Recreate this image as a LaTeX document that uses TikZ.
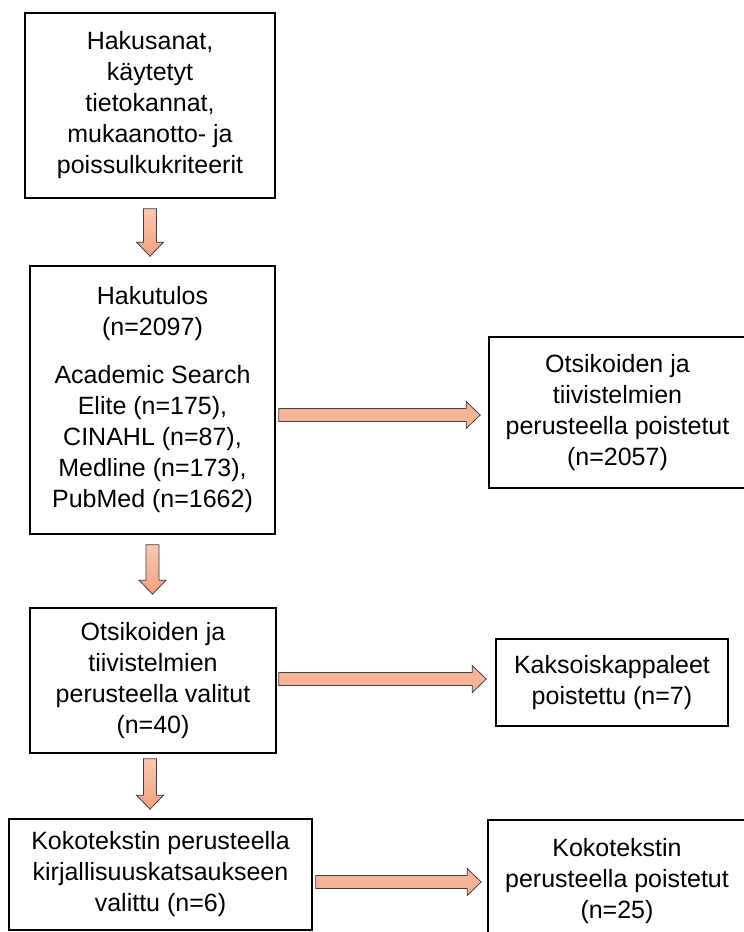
\documentclass[tikz,border=0pt]{standalone}
\usepackage{fontspec}
\setmainfont{Liberation Sans}
\usetikzlibrary{calc}
\definecolor{arrowfill}{RGB}{245,180,152}
\definecolor{arrowtop}{RGB}{250,200,178}
\definecolor{arrowbot}{RGB}{240,160,128}
\tikzset{
  flowbox/.style={draw, line width=1.6pt, align=center, inner sep=0pt,
    font=\fontsize{25}{31}\selectfont},
  fat/.style={draw=black!75, line width=0.8pt, fill=arrowfill,
    to path={let \p1=(\tikztostart), \p2=(\tikztotarget),
      \n1={atan2(\y2-\y1,\x2-\x1)}, \n2={veclen(\x2-\x1,\y2-\y1)} in
      ($(\p1)+(\n1+90:6.5pt)$) -- ($(\p1)+(\n1:\n2-14pt)+(\n1+90:6.5pt)$)
      -- ($(\p1)+(\n1:\n2-14pt)+(\n1+90:13.5pt)$) -- (\p2)
      -- ($(\p1)+(\n1:\n2-14pt)+(\n1-90:13.5pt)$)
      -- ($(\p1)+(\n1:\n2-14pt)+(\n1-90:6.5pt)$)
      -- ($(\p1)+(\n1-90:6.5pt)$) -- cycle}},
  fatdown/.style={fat, top color=arrowtop, bottom color=arrowbot}
}
\begin{document}
\begin{tikzpicture}[x=1pt,y=-1pt]
\clip (0,0) rectangle (744,932);
\fill[white] (0,0) rectangle (744,932);
\node[flowbox, minimum width=250pt, minimum height=185pt] (hakusanat) at (150,105.5) {Hakusanat,\\käytetyt\\tietokannat,\\mukaanotto- ja\\poissulkukriteerit};
\node[flowbox, minimum width=245pt, minimum height=268pt] (hakutulos) at (152.5,400) {Hakutulos\\(n=2097)\\[17pt]Academic Search\\Elite (n=175),\\CINAHL (n=87),\\Medline (n=173),\\PubMed (n=1662)};
\node[flowbox, minimum width=257pt, minimum height=151pt] (poistetut1) at (617.5,412.5) {Otsikoiden ja\\tiivistelmien\\perusteella poistetut\\(n=2057)};
\node[flowbox, minimum width=246pt, minimum height=145pt] (valitut) at (153,680.5) {Otsikoiden ja\\tiivistelmien\\perusteella valitut\\(n=40)};
\node[flowbox, minimum width=232pt, minimum height=87pt] (kaksois) at (612,682.5) {Kaksoiskappaleet\\poistettu (n=7)};
\node[flowbox, minimum width=303pt, minimum height=111pt] (valittu) at (160.5,874.5) {Kokotekstin perusteella\\kirjallisuuskatsaukseen\\valittu (n=6)};
\node[flowbox, minimum width=258pt, minimum height=122pt] (poistetut2) at (617,881) {Kokotekstin\\perusteella poistetut\\(n=25)};
% down arrows
\draw[fatdown] ([yshift=-10pt]hakusanat.south) to ([yshift=9pt]hakusanat.south |- hakutulos.north);
\draw[fatdown] ([yshift=-10pt]hakutulos.south) to ([yshift=13pt]hakutulos.south |- valitut.north);
\draw[fatdown] ([xshift=-3pt,yshift=-5pt]valitut.south) to ([xshift=-3pt,yshift=9pt]valitut.south |- valittu.north);
% right arrows
\draw[fat] ([xshift=3pt,yshift=-15pt]hakutulos.east) to ([xshift=-8pt,yshift=-2.5pt]poistetut1.west);
\draw[fat] ([xshift=2pt,yshift=1.5pt]valitut.east) to ([xshift=-9pt,yshift=3.5pt]kaksois.west);
\draw[fat] ([xshift=3pt,yshift=-7.5pt]valittu.east) to ([xshift=-6pt,yshift=-1pt]poistetut2.west);
\end{tikzpicture}
\end{document}
